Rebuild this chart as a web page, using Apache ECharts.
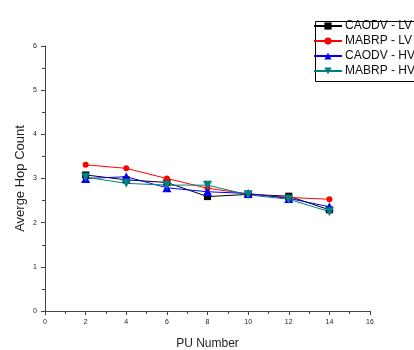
<!DOCTYPE html>
<html>
<head>
<meta charset="utf-8">
<script src="https://cdn.jsdelivr.net/npm/echarts@6/dist/echarts.min.js"></script>
<style>
  html, body { margin: 0; padding: 0; background: #fff; }
  #main { width: 414px; height: 350px; }
</style>
</head>
<body>
<div id="main"></div>
<script>
  // PU number on x
  var puNumbers = [2, 4, 6, 8, 10, 12, 14];

  // average hop count per scheme
  var caodvLV = [3.08, 2.97, 2.91, 2.59, 2.64, 2.60, 2.29];
  var mabrpLV = [3.31, 3.23, 3.00, 2.78, 2.65, 2.57, 2.53];
  var caodvHV = [3.00, 3.04, 2.79, 2.70, 2.66, 2.55, 2.36];
  var mabrpHV = [3.03, 2.89, 2.85, 2.85, 2.63, 2.53, 2.25];

  var seriesNames = ['CAODV - LV', 'MABRP - LV', 'CAODV - HV', 'MABRP - HV'];

  function pairs(vals) {
    return puNumbers.map(function(x, i) { return [x, vals[i]]; });
  }

  var downTriangle = 'path://M0,0 L10,0 L5,9 Z';

  var chart = echarts.init(document.getElementById('main'));
  var font = 'Liberation Sans, Arial, sans-serif';

  function line(name, vals, color, symbol, size) {
    return {
      name: name,
      type: 'line',
      data: pairs(vals),
      symbol: symbol,
      symbolSize: size,
      showSymbol: true,
      lineStyle: { color: color, width: 1 },
      itemStyle: { color: color },
      animation: false
    };
  }

  chart.setOption({
    backgroundColor: '#fff',
    grid: { left: 45, right: 44, top: 46, bottom: 39, outerBoundsMode: 'none' },
    // legend frame runs off the right edge, like the original
    graphic: [{
      type: 'rect',
      left: 313, top: 19,
      shape: { width: 130, height: 60 },
      style: { fill: 'none', stroke: '#000', lineWidth: 1 },
      silent: true
    }],
    legend: {
      orient: 'vertical',
      left: 312,
      top: 19,
      data: seriesNames,
      itemWidth: 28,
      itemHeight: 9,
      itemGap: 3,
      padding: [1, 0, 2, 1],
      textStyle: { fontFamily: font, fontSize: 12, color: '#111', padding: [0, 0, 0, -2] }
    },
    xAxis: {
      type: 'value',
      min: 0, max: 16, interval: 2,
      name: 'PU Number',
      nameLocation: 'middle',
      nameGap: 27,
      nameMoveOverlap: false,
      nameTextStyle: { fontFamily: font, fontSize: 12, color: '#222', letterSpacing: 1.8 },
      axisLine: { lineStyle: { color: '#444', width: 1 } },
      axisTick: { show: true, length: 4, lineStyle: { color: '#444' } },
      minorTick: { show: true, splitNumber: 2, length: 3, lineStyle: { color: '#444' } },
      axisLabel: { fontFamily: font, fontSize: 7, color: '#222', margin: 8 },
      splitLine: { show: false }
    },
    yAxis: {
      type: 'value',
      min: 0, max: 6, interval: 1,
      name: 'Averge Hop Count',
      nameLocation: 'middle',
      nameGap: 18,
      nameMoveOverlap: false,
      nameTextStyle: { fontFamily: font, fontSize: 13, color: '#222' },
      axisLine: { show: true, lineStyle: { color: '#444', width: 1 } },
      axisTick: { show: true, length: 4, lineStyle: { color: '#444' } },
      minorTick: { show: true, splitNumber: 2, length: 3, lineStyle: { color: '#444' } },
      axisLabel: { fontFamily: font, fontSize: 7, color: '#222', margin: 8 },
      splitLine: { show: false }
    },
    series: [
      line(seriesNames[0], caodvLV, '#000000', 'rect', 7),
      line(seriesNames[1], mabrpLV, '#ff0000', 'circle', 6),
      line(seriesNames[2], caodvHV, '#0000ff', 'triangle', 9),
      line(seriesNames[3], mabrpHV, '#008080', downTriangle, 9)
    ]
  });
</script>
</body>
</html>
